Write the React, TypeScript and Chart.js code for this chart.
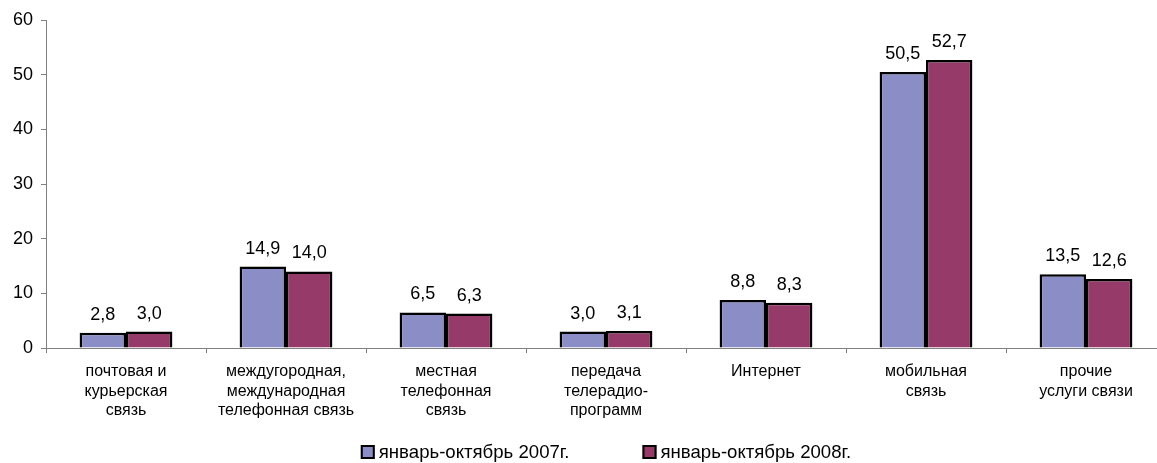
import React, { useEffect, useRef } from "react";
import { Chart, registerables } from "chart.js";

Chart.register(...registerables);

const categories: string[][] = [
  ["почтовая и", "курьерская", "связь"],
  ["междугородная,", "международная", "телефонная связь"],
  ["местная", "телефонная", "связь"],
  ["передача", "телерадио-", "программ"],
  ["Интернет"],
  ["мобильная", "связь"],
  ["прочие", "услуги связи"],
];

const series2007: number[] = [2.8, 14.9, 6.5, 3.0, 8.8, 50.5, 13.5];
const series2008: number[] = [3.0, 14.0, 6.3, 3.1, 8.3, 52.7, 12.6];

const seriesLabels: string[] = ["январь-октябрь 2007г.", "январь-октябрь 2008г."];
const seriesColors: string[] = ["#8B8EC6", "#963A6A"];

const yTicks: number[] = [0, 10, 20, 30, 40, 50, 60];

const FONT = "'Liberation Sans', Arial, sans-serif";

const dataLabelsPlugin = {
  id: "dataLabels",
  afterDatasetsDraw(chart: any) {
    const ctx = chart.ctx;
    ctx.save();
    ctx.font = `18px ${FONT}`;
    ctx.fillStyle = "#000";
    ctx.textAlign = "center";
    ctx.textBaseline = "bottom";
    chart.data.datasets.forEach((ds: any, di: number) => {
      const meta = chart.getDatasetMeta(di);
      meta.data.forEach((el: any, i: number) => {
        const v = ds.data[i] as number;
        ctx.fillText(v.toFixed(1).replace(".", ","), el.x, el.y - 9);
      });
    });
    ctx.restore();
  },
};

const legendPlugin = {
  id: "customLegend",
  afterDraw(chart: any) {
    const ctx = chart.ctx;
    ctx.save();
    ctx.font = `18.6px ${FONT}`;
    const box = 14;
    const gap = 4;
    const spacing = 73;
    const widths = seriesLabels.map((t) => ctx.measureText(t).width);
    const total =
      widths.reduce((a, w) => a + box + gap + w, 0) + spacing * (seriesLabels.length - 1);
    const ca = chart.chartArea;
    let x = (ca.left + ca.right) / 2 - total / 2;
    const cy = 452;
    seriesLabels.forEach((t, i) => {
      ctx.fillStyle = seriesColors[i];
      ctx.fillRect(x, cy - box / 2, box, box);
      ctx.lineWidth = 2;
      ctx.strokeStyle = "#000";
      ctx.strokeRect(x + 1, cy - box / 2 + 1, box - 2, box - 2);
      ctx.fillStyle = "#000";
      ctx.textAlign = "left";
      ctx.textBaseline = "middle";
      ctx.fillText(t, x + box + gap, cy + 1);
      x += box + gap + widths[i] + spacing;
    });
    ctx.restore();
  },
};

export default function App() {
  const ref = useRef<HTMLCanvasElement | null>(null);

  useEffect(() => {
    if (!ref.current) return;
    const chart = new Chart(ref.current, {
      type: "bar",
      data: {
        labels: categories,
        datasets: [
          {
            label: seriesLabels[0],
            data: series2007,
            backgroundColor: seriesColors[0],
            borderColor: "#000",
            borderWidth: 2.5,
            categoryPercentage: 0.58,
            barPercentage: 1.0,
          },
          {
            label: seriesLabels[1],
            data: series2008,
            backgroundColor: seriesColors[1],
            borderColor: "#000",
            borderWidth: 2.5,
            categoryPercentage: 0.58,
            barPercentage: 1.0,
          },
        ],
      },
      options: {
        responsive: false,
        animation: false,
        layout: { padding: { top: 20, left: 0, right: 0, bottom: 40 } },
        plugins: {
          legend: { display: false },
          tooltip: { enabled: false },
        },
        scales: {
          x: {
            offset: true,
            grid: {
              offset: true,
              drawOnChartArea: false,
              drawTicks: true,
              tickLength: 5,
              color: "#808080",
            },
            border: { color: "#808080", width: 1 },
            ticks: {
              color: "#000",
              font: { family: FONT, size: 16, lineHeight: 1.22 },
              padding: 9,
              maxRotation: 0,
              autoSkip: false,
            },
            afterFit: (s: any) => {
              s.height = 75;
            },
          },
          y: {
            min: 0,
            max: 60,
            afterBuildTicks: (s: any) => {
              s.ticks = yTicks.map((v) => ({ value: v }));
            },
            grid: {
              drawOnChartArea: false,
              drawTicks: true,
              tickLength: 5,
              color: "#808080",
            },
            border: { color: "#808080", width: 1 },
            ticks: {
              color: "#000",
              font: { family: FONT, size: 18 },
              padding: 8,
            },
            afterFit: (s: any) => {
              s.width = 46;
            },
          },
        },
      },
      plugins: [dataLabelsPlugin, legendPlugin],
    });
    return () => chart.destroy();
  }, []);

  return (
    <div
      style={{
        position: "fixed",
        left: 0,
        top: 0,
        width: 1157,
        height: 463,
        overflow: "hidden",
        background: "#fff",
      }}
    >
      <canvas ref={ref} width={1166} height={463} style={{ display: "block" }} />
    </div>
  );
}
